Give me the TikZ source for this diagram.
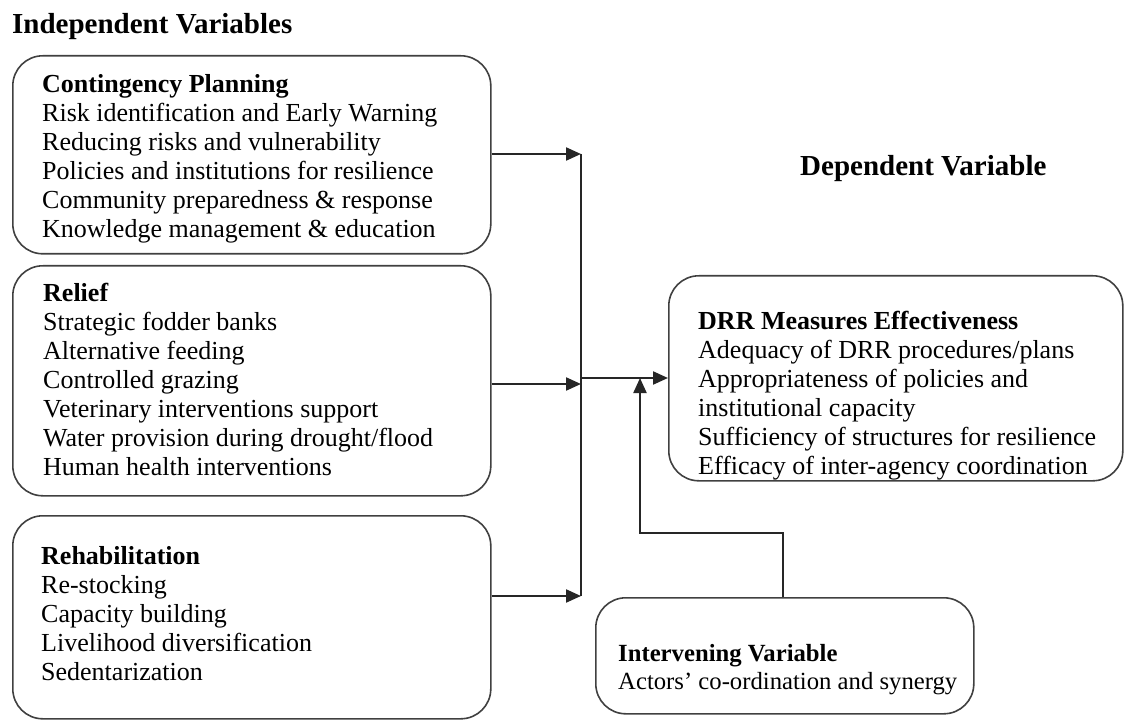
\documentclass[tikz,border=0pt]{standalone}
\usepackage{fontspec}
\setmainfont{Liberation Serif}
\usetikzlibrary{arrows.meta}
\begin{document}
\begin{tikzpicture}[x=1pt,y=-1pt,
  font=\fontsize{26}{29}\selectfont,
  box/.style={draw=black!75, line width=1.6pt, rounded corners=30pt, inner sep=0pt, anchor=north west},
  txt/.style={anchor=north west, align=left, inner sep=0pt},
  ttl/.style={anchor=north west, inner sep=0pt, font=\fontsize{29}{32}\selectfont\bfseries},
  conn/.style={draw=black!85, line width=2.2pt},
  arr/.style={conn, -{Triangle[length=15pt,width=13pt]}}]
\useasboundingbox (0,0) rectangle (1125,722);
% titles
\node[ttl] (tind) at (12,13) {Independent Variables};
\node[ttl] (tdep) at (800,155) {Dependent Variable};
% boxes
\node[box, minimum width=478pt, minimum height=198pt] (cp) at (12,55) {};
\node[box, minimum width=478pt, minimum height=230pt] (rl) at (12,265) {};
\node[box, minimum width=478pt, minimum height=203pt] (rh) at (12,515) {};
\node[box, minimum width=454pt, minimum height=205pt] (drr) at (668,275) {};
\node[box, minimum width=378pt, minimum height=116pt] (iv) at (595,597) {};
% texts
\node[txt] (cpt) at (42,74) {\textbf{Contingency Planning}\\
Risk identification and Early Warning\\
Reducing risks and vulnerability\\
Policies and institutions for resilience\\
Community preparedness \& response\\
Knowledge management \& education};
\node[txt] (rlt) at (43,283) {\textbf{Relief}\\
Strategic fodder banks\\
Alternative feeding\\
Controlled grazing\\
Veterinary interventions support\\
Water provision during drought/flood\\
Human health interventions};
\node[txt] (rht) at (41,546) {\textbf{Rehabilitation}\\
Re-stocking\\
Capacity building\\
Livelihood diversification\\
Sedentarization};
\node[txt] (drrt) at (698,311) {\textbf{DRR Measures Effectiveness}\\
Adequacy of DRR procedures/plans\\
Appropriateness of policies and\\
institutional capacity\\
Sufficiency of structures for resilience\\
Efficacy of inter-agency coordination};
\node[txt, font=\fontsize{24.7}{28}\selectfont] (ivt) at (618,644) {\textbf{Intervening Variable}\\
Actors’ co-ordination and synergy};
% junction coordinates
\coordinate (j1) at (581,154);
\coordinate (j2) at (581,384);
\coordinate (j3) at (581,596);
\coordinate (jm) at (581,378);
\coordinate (ivtop) at (783,597);
\coordinate (b1) at (783,533);
\coordinate (b2) at (640,533);
\coordinate (b3) at (640,378);
% connectors
\draw[arr] (cp.east |- j1) -- (j1);
\draw[arr] (rl.east |- j2) -- (j2);
\draw[arr] (rh.east |- j3) -- (j3);
\draw[conn] (j1) -- (j3);
\draw[arr] (jm) -- (drr.west |- jm);
\draw[arr] (iv.north -| ivtop) -- (b1) -- (b2) -- (b3);
\end{tikzpicture}
\end{document}
